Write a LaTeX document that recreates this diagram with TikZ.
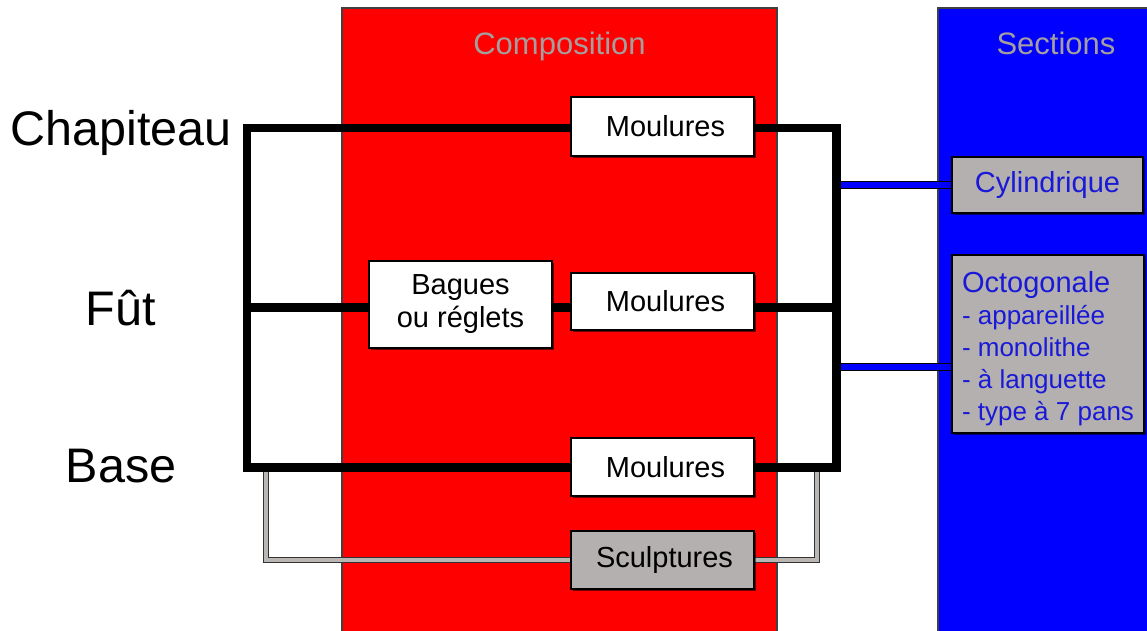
\documentclass[tikz,border=0pt]{standalone}
\usepackage{fontspec}
\setmainfont{Liberation Sans}
\usetikzlibrary{shadows}
\definecolor{panelred}{RGB}{255,0,0}
\definecolor{panelblue}{RGB}{0,0,255}
\definecolor{boxgrey}{RGB}{180,176,175}
\definecolor{textblue}{RGB}{25,25,215}
\definecolor{titlegrey}{RGB}{165,158,158}
\definecolor{linkgrey}{RGB}{185,182,180}
\pgfdeclarelayer{panels}
\pgfdeclarelayer{links}
\pgfsetlayers{panels,links,main}
\begin{document}
\begin{tikzpicture}[x=1pt,y=-1pt,
  partbox/.style={draw=black, line width=1.3pt, fill=white, minimum width=183pt,
    inner sep=0pt, font=\fontsize{29}{33}\selectfont, align=center,
    drop shadow={shadow xshift=2pt, shadow yshift=-2pt, opacity=0.55, fill=black}},
  greybox/.style={partbox, fill=boxgrey},
  secbox/.style={greybox, text=textblue},
  partlabel/.style={font=\fontsize{48.5}{52}\selectfont, anchor=base},
  paneltitle/.style={font=\fontsize{31}{34}\selectfont, text=titlegrey, anchor=base},
  panel/.style={draw=black!75, line width=1.5pt},
  trunk/.style={line width=8.5pt, line join=miter, line cap=rect},
  bluelink/.style={draw=black, line width=1.3pt, double=panelblue, double distance=5.5pt},
  greylink/.style={draw=black!80, line width=1.2pt, double=linkgrey, double distance=4pt, line join=miter},
]
\useasboundingbox (0,0) rectangle (1147,630);
\clip (0,0) rectangle (1147,630);

% panels
\begin{pgfonlayer}{panels}
\draw[panel, fill=panelred] (342,8) rectangle (777,645);
\draw[panel, fill=panelblue] (938,8) rectangle (1165,645);
\end{pgfonlayer}

% titles
\node[paneltitle] (comp) at (559.5,54) {Composition};
\node[paneltitle] (sect) at (1056,54) {Sections};

% row labels
\node[partlabel] (chap) at (121,145) {Chapiteau};
\node[partlabel] (fut) at (121,325) {Fût};
\node[partlabel] (base) at (121,482) {Base};

% boxes
\node[partbox, minimum height=59pt] (m1) at (662.5,126.5) {\hspace*{6pt}Moulures};
\node[partbox, minimum height=87pt] (bag) at (460.5,304.5) {Bagues\\ou réglets};
\node[partbox, minimum height=57pt] (m2) at (662.5,301.5) {\hspace*{6pt}Moulures};
\node[partbox, minimum height=58pt] (m3) at (662.5,467) {\hspace*{6pt}Moulures};
\node[greybox, minimum height=58pt] (scu) at (662.5,560) {\hspace*{4pt}Sculptures};
\node[secbox, minimum width=191pt, minimum height=56pt] (cyl) at (1047.5,185) {Cylindrique};
\node[secbox, minimum width=192pt, minimum height=178pt, align=left,
  font=\fontsize{26}{32}\selectfont] (oct) at (1048,344)
  {\rule{0pt}{31pt}{\fontsize{29}{32}\selectfont Octogonale}\\- appareillée\\- monolithe\\- à languette\\- type à 7 pans};

% junction points
\coordinate (tl) at (247,128);
\coordinate (bl) at (247,467.5);
\coordinate (tr) at (836.5,128);
\coordinate (br) at (836.5,467.5);
\coordinate (ml) at (247,307.5);
\coordinate (mr) at (836.5,307.5);
\coordinate (c1) at (836.5,185);
\coordinate (c2) at (836.5,367);
\coordinate (sl) at (266,467.5);
\coordinate (sr) at (817,467.5);

% connectors
\begin{pgfonlayer}{links}
\draw[greylink] (sl) |- (scu.west);
\draw[greylink] (sr) |- (scu.east);
\draw[bluelink] (c1) -- (cyl.west);
\draw[bluelink] (c2) -- (c2 -| oct.west);
\draw[trunk] (tl -| m1.west) -- (tl) -- (bl) -- (bl -| m3.west);
\draw[trunk] (tr -| m1.east) -- (tr) -- (br) -- (br -| m3.east);
\draw[trunk] (ml) -- (ml -| bag.west);
\draw[trunk] (bag.east |- ml) -- (ml -| m2.west);
\draw[trunk] (m2.east |- ml) -- (mr);
\end{pgfonlayer}
\end{tikzpicture}
\end{document}
